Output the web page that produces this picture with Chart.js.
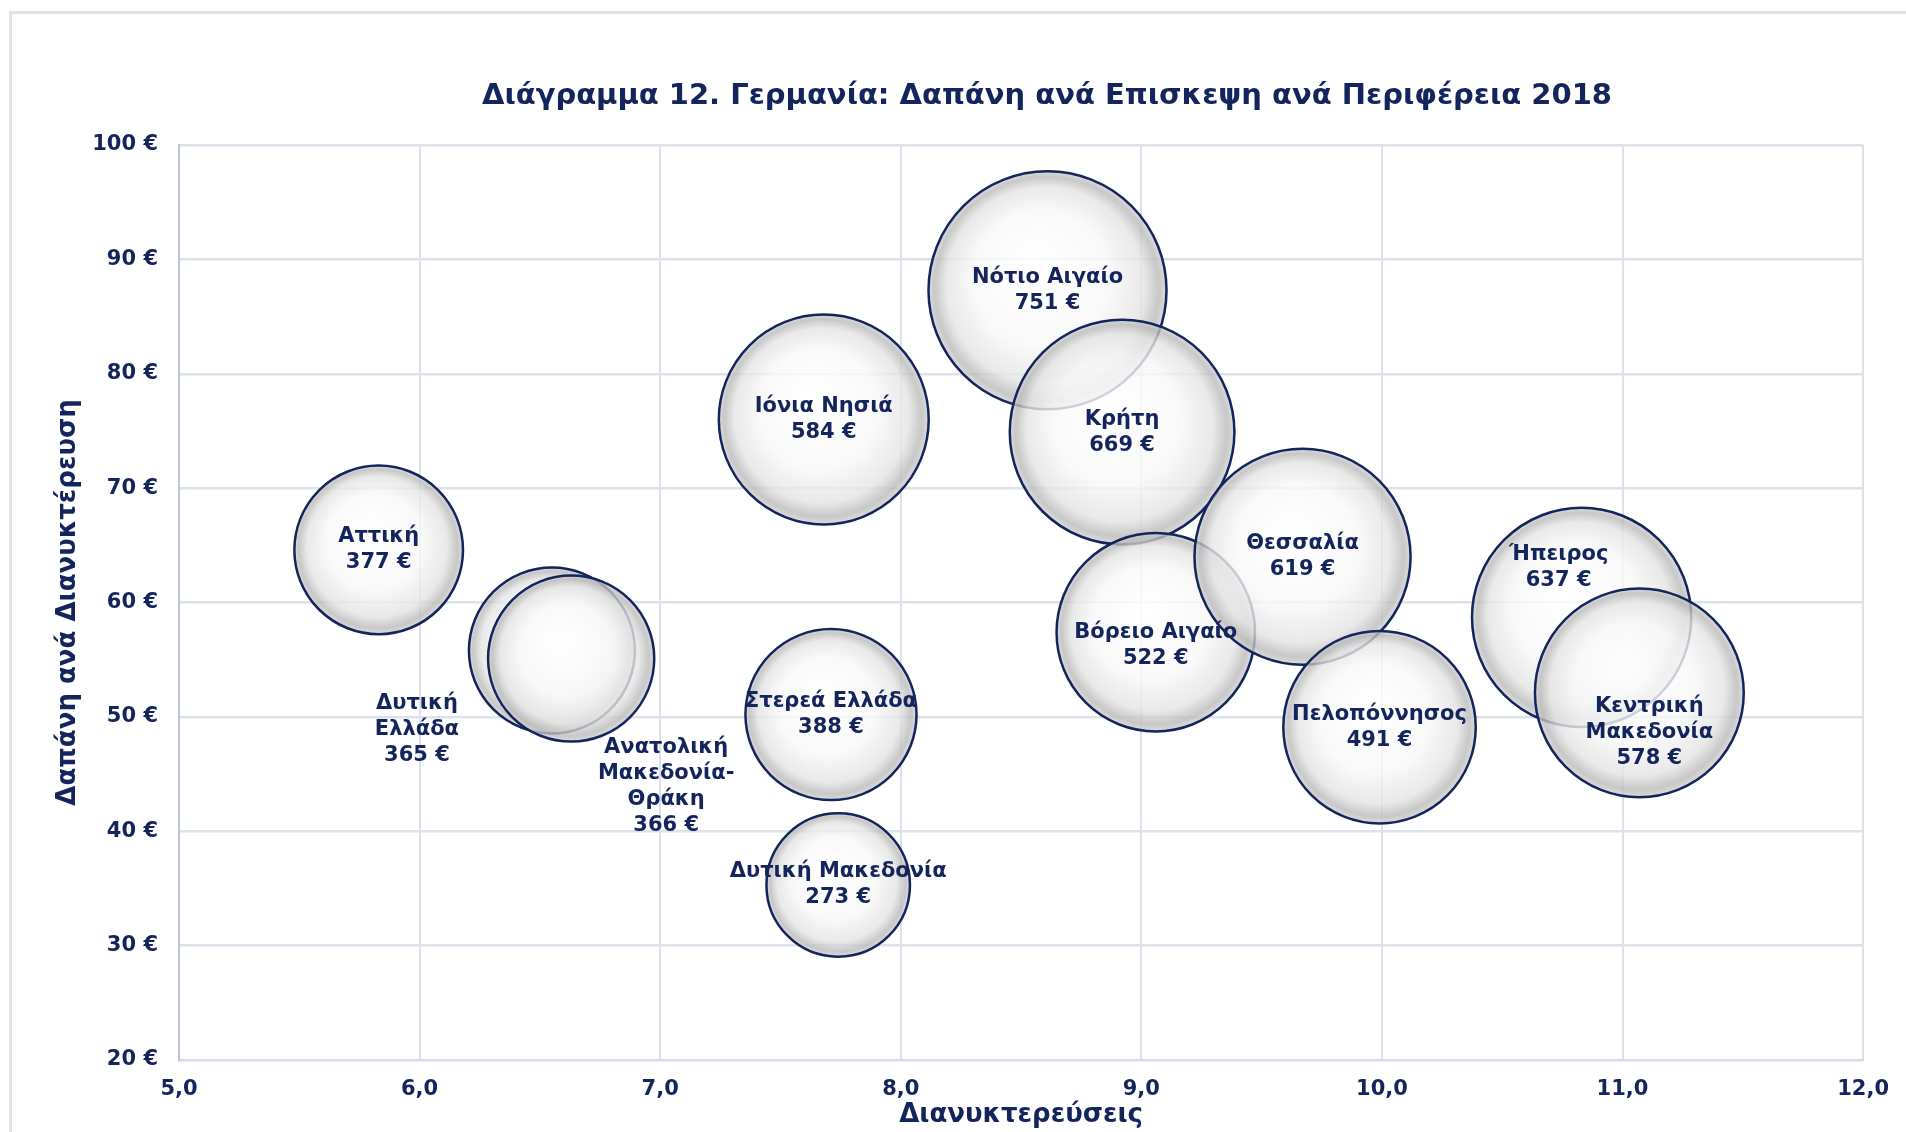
<!DOCTYPE html>
<html>
<head>
<meta charset="utf-8">
<script src="https://cdn.jsdelivr.net/npm/chart.js@4"></script>
<style>
    html, body { margin: 0; padding: 0; background: #fff; overflow: hidden; }
    #wrap { position: absolute; left: 0; top: 0; width: 1906px; height: 1132px; }
    #frame { position: absolute; left: 9px; top: 11px; width: 1930px; height: 1150px; border: 3px solid #dfe3eb; box-sizing: border-box; }
    #myChart { position: absolute; left: 0; top: 0; }
</style>
</head>
<body>
<div id="wrap">
    <div id="frame"></div>
    <canvas id="myChart" width="1906" height="1132"></canvas>
</div>
<script>
// data
const regions = ['Αττική', 'Δυτική Ελλάδα', 'Ανατολική Μακεδονία-Θράκη', 'Ιόνια Νησιά', 'Στερεά Ελλάδα',
    'Δυτική Μακεδονία', 'Νότιο Αιγαίο', 'Κρήτη', 'Βόρειο Αιγαίο', 'Θεσσαλία', 'Πελοπόννησος',
    'Ήπειρος', 'Κεντρική Μακεδονία'];
const nights = [5.83, 6.55, 6.63, 7.68, 7.71, 7.74, 8.61, 8.92, 9.06, 9.67, 9.99, 10.83, 11.07];
const spendPerNight = [64.6, 55.8, 55.1, 76.0, 50.2, 35.3, 87.3, 74.9, 57.4, 64.0, 49.1, 58.7, 52.1];
const spendPerVisit = [377, 365, 366, 584, 388, 273, 751, 669, 522, 619, 491, 637, 578];
const labelLines = [
    ['Αττική'], ['Δυτική', 'Ελλάδα'], ['Ανατολική', 'Μακεδονία-', 'Θράκη'], ['Ιόνια Νησιά'],
    ['Στερεά Ελλάδα'], ['Δυτική Μακεδονία'], ['Νότιο Αιγαίο'], ['Κρήτη'], ['Βόρειο Αιγαίο'],
    ['Θεσσαλία'], ['Πελοπόννησος'], ['Ήπειρος'], ['Κεντρική', 'Μακεδονία']
];
const xTicks = [5, 6, 7, 8, 9, 10, 11, 12];

// label offsets from the bubble centre (px)
const labelOffsets = [[0, 0], [-135, 79], [95, 128], [0, 0], [0, 0], [0, 0], [0, 0], [0, 0],
    [0, 13], [0, 0], [0, 0], [-23, -50], [10, 40]];

const navy = '#14245c';
const maxRadius = 119;
const maxSpend = Math.max(...spendPerVisit);

// bubbles should not push the plot area inwards
Chart.BubbleController.prototype.getMaxOverflow = function () { return false; };

let points = [];
for (let i = 0; i < regions.length; i++) {
    points.push({
        x: nights[i],
        y: spendPerNight[i],
        r: maxRadius * Math.sqrt(spendPerVisit[i] / maxSpend)
    });
}

function bubbleFill(context) {
    const chart = context.chart;
    const raw = context.raw;
    if (!raw || !chart.chartArea) return 'rgba(235, 235, 235, 0.8)';
    const cx = chart.scales.x.getPixelForValue(raw.x);
    const cy = chart.scales.y.getPixelForValue(raw.y);
    const r = raw.r;
    const g = chart.ctx.createRadialGradient(cx - r * 0.12, cy - r * 0.22, r * 0.05, cx, cy, r);
    g.addColorStop(0, 'rgba(255, 255, 255, 0.8)');
    g.addColorStop(0.55, 'rgba(247, 247, 247, 0.8)');
    g.addColorStop(0.82, 'rgba(228, 228, 228, 0.8)');
    g.addColorStop(0.94, 'rgba(186, 186, 186, 0.8)');
    g.addColorStop(1, 'rgba(212, 212, 212, 0.8)');
    return g;
}

const bubbleLabels = {
    id: 'bubbleLabels',
    afterDatasetsDraw(chart) {
        const ctx = chart.ctx;
        const meta = chart.getDatasetMeta(0);
        ctx.save();
        ctx.fillStyle = navy;
        ctx.font = 'bold 21px "DejaVu Sans"';
        ctx.textAlign = 'center';
        ctx.textBaseline = 'middle';
        const lineH = 26;
        meta.data.forEach(function (el, i) {
            const lines = labelLines[i].concat([spendPerVisit[i] + ' €']);
            const x = el.x + labelOffsets[i][0];
            const y = el.y + labelOffsets[i][1] - (lines.length - 1) * lineH / 2;
            lines.forEach(function (t, k) {
                ctx.fillText(t, x, y + k * lineH);
            });
        });
        ctx.restore();
    }
};

const chartTitle = {
    id: 'chartTitle',
    afterDraw(chart) {
        const ctx = chart.ctx;
        ctx.save();
        ctx.fillStyle = navy;
        ctx.font = 'bold 29px "DejaVu Sans"';
        ctx.textAlign = 'center';
        ctx.textBaseline = 'middle';
        ctx.fillText('Διάγραμμα 12. Γερμανία: Δαπάνη ανά Επισκεψη ανά Περιφέρεια 2018', 1047, 96);
        ctx.restore();
    }
};

var ctx = document.getElementById('myChart');
var myChart = new Chart(ctx, {
    type: 'bubble',
    data: {
        labels: regions,
        datasets: [{
            data: points,
            backgroundColor: bubbleFill,
            borderColor: navy,
            borderWidth: 2.5
        }]
    },
    options: {
        responsive: false,
        animation: false,
        events: [],
        layout: {
            padding: { left: 0, right: 42, top: 145, bottom: 0 }
        },
        plugins: {
            legend: { display: false },
            tooltip: { enabled: false }
        },
        scales: {
            x: {
                type: 'linear',
                min: 5,
                max: 12,
                afterBuildTicks: function (scale) {
                    scale.ticks = xTicks.map(v => ({ value: v }));
                },
                afterFit: function (scale) { scale.height = 72; },
                ticks: {
                    color: navy,
                    font: { family: 'DejaVu Sans', size: 21, weight: 'bold' },
                    padding: 17,
                    maxRotation: 0,
                    callback: v => v.toFixed(1).replace('.', ',')
                },
                grid: { color: '#dce1ea', lineWidth: 2, drawTicks: false },
                border: { color: '#d4dae6', width: 2 },
                title: {
                    display: true,
                    text: 'Διανυκτερεύσεις',
                    color: navy,
                    font: { family: 'DejaVu Sans', size: 26, weight: 'bold' },
                    padding: { top: 0, bottom: 1 }
                }
            },
            y: {
                min: 20,
                max: 100,
                afterFit: function (scale) { scale.width = 179; },
                ticks: {
                    stepSize: 10,
                    color: navy,
                    font: { family: 'DejaVu Sans', size: 21, weight: 'bold' },
                    padding: 21,
                    callback: v => v + ' €'
                },
                grid: { color: '#dce1ea', lineWidth: 2.5, drawTicks: false },
                border: { color: '#b9c4d8', width: 2 },
                title: {
                    display: true,
                    text: 'Δαπάνη ανά Διανυκτέρευση',
                    color: navy,
                    font: { family: 'DejaVu Sans', size: 26, weight: 'bold' },
                    padding: { top: 53, bottom: 0 }
                }
            }
        }
    },
    plugins: [bubbleLabels, chartTitle]
});
</script>
</body>
</html>
